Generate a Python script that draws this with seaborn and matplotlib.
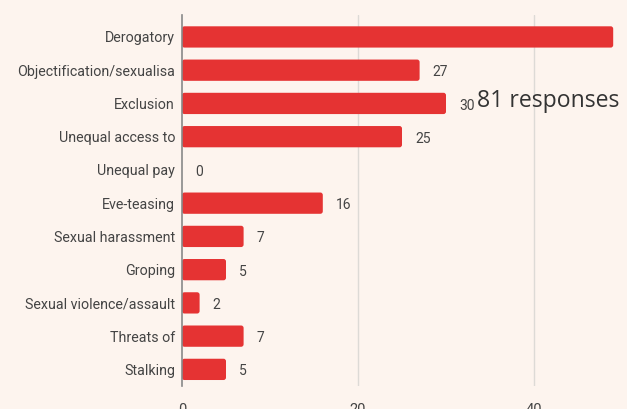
import matplotlib
matplotlib.use("Agg")
import matplotlib.pyplot as plt
from matplotlib.patches import FancyBboxPatch
import seaborn as sns
import pandas as pd

categories = [
    "Derogatory",
    "Objectification/sexualisa",
    "Exclusion",
    "Unequal access to",
    "Unequal pay",
    "Eve-teasing",
    "Sexual harassment",
    "Groping",
    "Sexual violence/assault",
    "Threats of",
    "Stalking",
]
counts = [49, 27, 30, 25, 0, 16, 7, 5, 2, 7, 5]
x_ticks = [0, 20, 40]
total_label = "81 responses"

bg = "#fdf4ee"
bar_color = "#e53333"
text_color = "#444444"

sns.set_theme(style="white")
plt.rcParams["font.family"] = ["Roboto", "DejaVu Sans"]

df = pd.DataFrame({"category": categories, "count": counts})

fig = plt.figure(figsize=(6.27, 4.09), dpi=100, facecolor=bg)
ax = fig.add_axes([182 / 627, 1 - 386 / 409, 445 / 627, (386 - 15) / 409])
ax.set_facecolor(bg)

sns.barplot(data=df, x="count", y="category", orient="h", color=bar_color,
            saturation=1, width=0.64, ax=ax)

x_max = 445 / 8.8
ax.set_xlim(0, x_max)
ax.set_ylim(10.5, -0.66)

# soften the bar ends with slightly rounded corners
px_x = x_max / 445
px_y = 11.16 / 371
for p in list(ax.patches):
    x, y = p.get_x(), p.get_y()
    w, h = p.get_width(), p.get_height()
    if w <= 0:
        p.remove()
        continue
    rounded = FancyBboxPatch((x, y), w, h,
                             boxstyle="round,pad=0,rounding_size=%f" % (2.5 * px_x),
                             mutation_aspect=px_y / px_x,
                             facecolor=bar_color, edgecolor="none", zorder=2)
    p.remove()
    ax.add_patch(rounded)

ax.set_xticks(x_ticks)
ax.set_xticklabels([str(t) for t in x_ticks], fontsize=10.5, color=text_color)
ax.tick_params(axis="x", length=0, pad=12)
ax.tick_params(axis="y", length=0, pad=5, labelsize=10.3, labelcolor=text_color)
ax.set_xlabel("")
ax.set_ylabel("")

for t in x_ticks[1:]:
    ax.axvline(t, color="#dddad6", lw=1, zorder=0)

for s in ["top", "right", "bottom"]:
    ax.spines[s].set_visible(False)
ax.spines["left"].set_color("#888888")
ax.spines["left"].set_linewidth(1.2)
ax.spines["left"].set_zorder(3)

for i, v in enumerate(counts):
    ax.annotate(str(v), xy=(v, i), xytext=(9.5, -1.5), textcoords="offset points",
                ha="left", va="center", fontsize=10, color=text_color,
                annotation_clip=False)

fig.text(477 / 627, 1 - 101 / 409, total_label, fontsize=16.6, color="#333333",
         ha="left", va="center", family=["Open Sans", "DejaVu Sans"])

fig.savefig("out.png", dpi=100, facecolor=bg)
